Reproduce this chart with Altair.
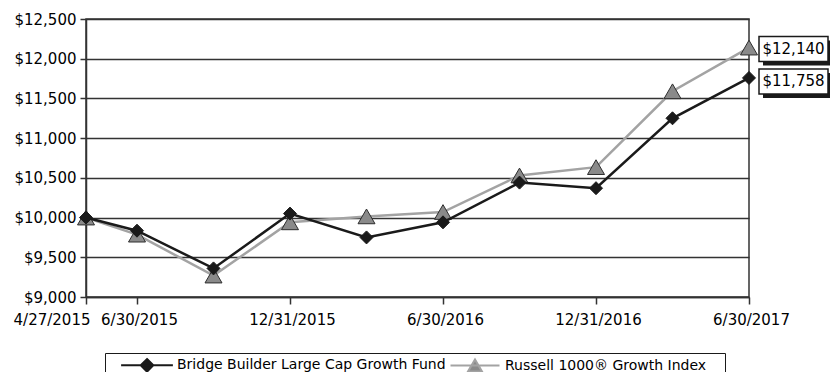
import altair as alt
import pandas as pd

# Quarter-end observation dates and the hypothetical $10,000 growth of each series
dates = ["4/27/2015", "6/30/2015", "9/30/2015", "12/31/2015", "3/31/2016",
         "6/30/2016", "9/30/2016", "12/31/2016", "3/31/2017", "6/30/2017"]
fund_values = [10000, 9835, 9360, 10050, 9750, 9940, 10440, 10370, 11250, 11758]
index_values = [10000, 9785, 9270, 9940, 10015, 10070, 10530, 10635, 11590, 12140]
series_names = ["Bridge Builder Large Cap Growth Fund", "Russell 1000® Growth Index"]
x_tick_labels = ["4/27/2015", "6/30/2015", "12/31/2015", "6/30/2016", "12/31/2016", "6/30/2017"]
y_ticks = [9000, 9500, 10000, 10500, 11000, 11500, 12000, 12500]

FONT = "DejaVu Sans"
INK = "#1a1a1a"
GRID = "#333333"


def month_index(label):
    # the horizontal axis is spaced by calendar month
    m, d, y = (int(p) for p in label.split("/"))
    return (y - 2015) * 12 + m - 4


rows = []
for label, f, r in zip(dates, fund_values, index_values):
    rows.append({"date": label, "t": month_index(label), "series": series_names[0], "value": f})
    rows.append({"date": label, "t": month_index(label), "series": series_names[1], "value": r})
df = pd.DataFrame(rows)

tick_idx = [month_index(s) for s in x_tick_labels]
label_expr = "''"
for i, lab in reversed(list(zip(tick_idx, x_tick_labels))):
    label_expr = f"datum.value == {i} ? '{lab}' : ({label_expr})"
first_tick = f"datum.value == {tick_idx[0]}"

x_enc = alt.X(
    "t:Q",
    scale=alt.Scale(domain=[month_index(dates[0]), month_index(dates[-1])], nice=False, zero=False),
    axis=alt.Axis(values=tick_idx, labelExpr=label_expr, title=None, grid=False,
                  tickSize=7, labelPadding=8, labelFontSize=15, labelFlush=False,
                  labelOverlap=False,
                  labelAlign=alt.condition(first_tick, alt.value("right"), alt.value("center")),
                  labelOffset=alt.condition(first_tick, alt.value(4), alt.value(2))),
)
y_enc = alt.Y(
    "value:Q",
    scale=alt.Scale(domain=[y_ticks[0], y_ticks[-1]], nice=False, zero=False),
    axis=alt.Axis(values=y_ticks, format="$,.0f", title=None, grid=True,
                  tickSize=6, labelPadding=4, labelFontSize=15),
)

base = alt.Chart(df).encode(x=x_enc, y=y_enc)

fund = base.transform_filter(alt.datum.series == series_names[0])
russ = base.transform_filter(alt.datum.series == series_names[1])

russ_line = russ.mark_line(color="#a3a3a3", strokeWidth=2.5)
russ_pts = russ.mark_point(shape="triangle-up", size=289, filled=True,
                           fill="#8a8a8a", stroke="#2e2e2e", strokeWidth=1, opacity=1)
fund_line = fund.mark_line(color=INK, strokeWidth=2.5)
fund_pts = fund.mark_point(shape="diamond", size=169, filled=True,
                           fill=INK, stroke=INK, strokeWidth=1, opacity=1)

# Legend: each entry shows the series line with its marker.
# The symbol box is kept small (14 px) so the row stays short; the line reaches past it.
# A blank title on the left and a blank glyph after the last label widen the box margins.
fund_sym = "M-3.7,0H3.7M0,-0.9L0.9,0L0,0.9L-0.9,0Z"
russ_sym = "M-3.5,0H3.5M0,-0.85L1,0.85L-1,0.85Z"
BLANK = "\u2800"
legend = alt.Legend(
    title=BLANK, titleOrient="left", titleFontSize=14, titlePadding=0, titleFont=FONT,
    orient="none", legendX=19, legendY=334, direction="horizontal",
    symbolSize=196, symbolStrokeWidth=2, labelFont=FONT, labelFontSize=14,
    labelColor="black", labelLimit=500, labelOffset=22, columnPadding=0,
    padding=4, symbolOffset=19, strokeColor=INK, fillColor="white",
    labelExpr=f"datum.value == '{series_names[1]}' ? datum.label + ' {BLANK}' : datum.label",
)
legend_layer = alt.Chart(df).transform_filter("false").mark_point(filled=True, opacity=1).encode(
    shape=alt.Shape("series:N", scale=alt.Scale(domain=series_names, range=[fund_sym, russ_sym]), legend=legend),
    fill=alt.Fill("series:N", scale=alt.Scale(domain=series_names, range=[INK, "#8a8a8a"]), legend=legend),
    stroke=alt.Stroke("series:N", scale=alt.Scale(domain=series_names, range=[INK, "#a3a3a3"]), legend=legend),
)

# End-value call-outs: shadowed boxes to the right of the last point
box_path = "M-1,-0.362H1V0.362H-1Z"
BOX = 4761


def callout(name, dy):
    last = base.transform_filter(
        (alt.datum.series == name) & (alt.datum.t == month_index(dates[-1]))
    )
    shadow = last.mark_point(shape=box_path, size=BOX, filled=True, fill=INK, opacity=1,
                             xOffset=48.5, yOffset=dy + 4)
    box = last.mark_point(shape=box_path, size=BOX, filled=True, fill="white", stroke=INK,
                          strokeWidth=1.5, opacity=1, xOffset=44.5, yOffset=dy)
    txt = last.mark_text(font=FONT, fontSize=15, color="black", align="center",
                         baseline="middle", xOffset=44.5, yOffset=dy).encode(
        text=alt.Text("value:Q", format="$,.0f"))
    return [shadow, box, txt]


chart = alt.layer(
    russ_line, russ_pts, fund_line, fund_pts, legend_layer,
    *callout(series_names[1], 1.5), *callout(series_names[0], 3.5),
).properties(
    width=663, height=278, autosize="none",
    padding={"left": 86, "top": 19, "right": 81, "bottom": 75},
).configure_view(
    fill="#e6e7e8", stroke=GRID, strokeWidth=1.5,
).configure_axis(
    labelFont=FONT, labelColor="black", domainColor=GRID, domainWidth=1.5,
    tickColor=GRID, tickWidth=1.5, gridColor=GRID, gridWidth=1.4, gridOpacity=1,
)

chart.save("out.html", embed_options={"renderer": "svg", "actions": False})
